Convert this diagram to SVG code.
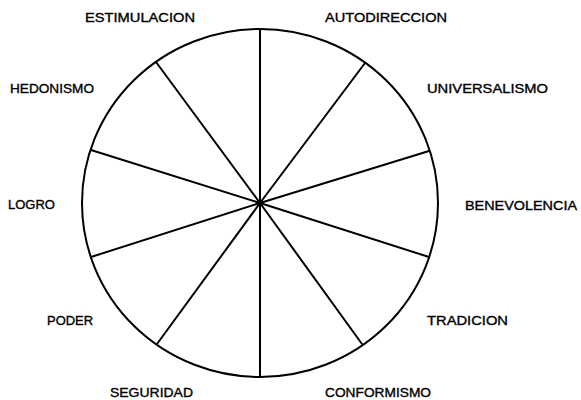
<svg xmlns="http://www.w3.org/2000/svg" width="581" height="400" viewBox="0 0 581 400">
<style>
.lbl{font-family:"Liberation Sans",Arial,sans-serif;font-size:13px;fill:#000;stroke:#000;stroke-width:0.35}
.ln{stroke:#000;stroke-width:2;fill:none;stroke-linecap:round}
</style>
<rect width="581" height="400" fill="#fff"/>
<g id="wheel">
<ellipse class="ln" cx="260" cy="203" rx="178" ry="174"/>
</g>
<g id="connectors">
<line class="ln" x1="260" y1="29" x2="260" y2="377"/>
<line class="ln" x1="260" y1="203" x2="156" y2="62"/>
<line class="ln" x1="260" y1="203" x2="365" y2="63"/>
<line class="ln" x1="260" y1="203" x2="91" y2="150"/>
<line class="ln" x1="260" y1="203" x2="429" y2="151"/>
<line class="ln" x1="260" y1="203" x2="91" y2="257"/>
<line class="ln" x1="260" y1="203" x2="429" y2="257"/>
<line class="ln" x1="260" y1="203" x2="157" y2="344"/>
<line class="ln" x1="260" y1="203" x2="362" y2="344"/>
</g>
<g id="estimulacion"><text class="lbl" x="85" y="22" textLength="110" lengthAdjust="spacingAndGlyphs">ESTIMULACION</text></g>
<g id="autodireccion"><text class="lbl" x="325" y="22" textLength="122" lengthAdjust="spacingAndGlyphs">AUTODIRECCION</text></g>
<g id="universalismo"><text class="lbl" x="427" y="93" textLength="121" lengthAdjust="spacingAndGlyphs">UNIVERSALISMO</text></g>
<g id="benevolencia"><text class="lbl" x="465" y="210" textLength="112" lengthAdjust="spacingAndGlyphs">BENEVOLENCIA</text></g>
<g id="tradicion"><text class="lbl" x="427" y="325" textLength="81" lengthAdjust="spacingAndGlyphs">TRADICION</text></g>
<g id="conformismo"><text class="lbl" x="325" y="397" textLength="106" lengthAdjust="spacingAndGlyphs">CONFORMISMO</text></g>
<g id="seguridad"><text class="lbl" x="110" y="397" textLength="83" lengthAdjust="spacingAndGlyphs">SEGURIDAD</text></g>
<g id="poder"><text class="lbl" x="47" y="325" textLength="46" lengthAdjust="spacingAndGlyphs">PODER</text></g>
<g id="logro"><text class="lbl" x="8" y="209" textLength="47" lengthAdjust="spacingAndGlyphs">LOGRO</text></g>
<g id="hedonismo"><text class="lbl" x="10" y="93" textLength="84" lengthAdjust="spacingAndGlyphs">HEDONISMO</text></g>
</svg>
